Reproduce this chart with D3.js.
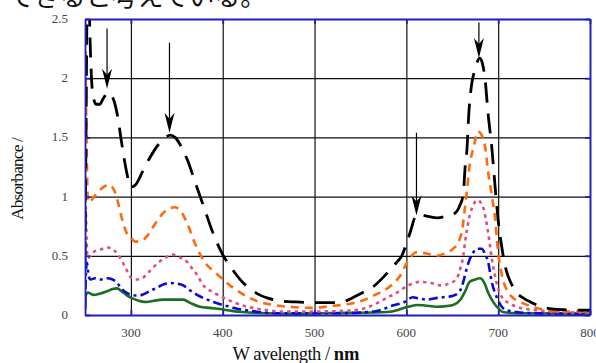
<!DOCTYPE html>
<html>
<head>
<meta charset="utf-8">
<script src="https://cdn.jsdelivr.net/npm/d3@7"></script>
<style>
  body { margin: 0; background: #fff; }
  svg { display: block; }
</style>
</head>
<body>
<div id="chart"></div>
<script>
// absorbance spectra, [wavelength nm, absorbance]
const blackSeries = [[250,0.45],[251,1.4],[252.5,2.7],[254,2.7],[256,2.2],[258,1.9],[262,1.78],[266,1.78],[270,1.83],[275,1.88],[280,1.84],[285,1.7],[290,1.45],[295,1.22],[300,1.08],[305,1.1],[312,1.2],[320,1.32],[330,1.44],[338,1.5],[343,1.52],[348,1.5],[355,1.42],[362,1.3],[370,1.12],[380,0.9],[390,0.68],[400,0.51],[410,0.39],[420,0.29],[430,0.22],[440,0.17],[450,0.14],[462,0.12],[480,0.11],[500,0.105],[520,0.105],[530,0.11],[540,0.14],[550,0.18],[564,0.24],[575,0.32],[582,0.38],[590,0.45],[595,0.5],[600,0.6],[605,0.72],[609,0.82],[612,0.85],[620,0.84],[634,0.82],[645,0.84],[653,0.86],[658,0.92],[662,1.02],[664,1.25],[666,1.4],[668,1.7],[670,1.88],[675,2.08],[680,2.17],[683,2.12],[686,1.97],[689,1.7],[693,1.42],[697,1.05],[700,0.8],[704,0.57],[708,0.4],[714,0.27],[720,0.19],[728,0.14],[735,0.11],[749,0.065],[760,0.05],[771,0.045],[800,0.04]];
const orangeSeries = [[250,2.7],[251.5,1.6],[253,1.0],[255,0.95],[258,0.98],[262,1.02],[270,1.08],[276,1.1],[282,1.05],[286,0.95],[291,0.79],[295,0.7],[299,0.66],[305,0.62],[312,0.63],[318,0.67],[323,0.73],[330,0.81],[335,0.86],[342,0.9],[348,0.91],[354,0.88],[361,0.78],[370,0.6],[381,0.44],[390,0.37],[399,0.31],[408,0.25],[417,0.2],[428,0.15],[440,0.11],[455,0.085],[470,0.07],[498,0.06],[517,0.075],[530,0.085],[542,0.1],[555,0.13],[566,0.17],[582,0.24],[593,0.33],[602,0.46],[611,0.53],[622,0.52],[633,0.5],[642,0.52],[651,0.56],[657,0.62],[661,0.73],[664,0.92],[666,1.05],[669,1.27],[673,1.41],[678,1.55],[682,1.52],[686,1.41],[689,1.21],[693,1.01],[697,0.79],[699,0.6],[704,0.34],[711,0.19],[717,0.14],[724,0.11],[742,0.06],[767,0.03],[800,0.03]];
const pinkSeries = [[250,1.3],[251.5,0.7],[253,0.48],[256,0.5],[259,0.53],[266,0.55],[275,0.57],[281,0.55],[286,0.51],[290,0.46],[294,0.4],[301,0.31],[306,0.3],[312,0.31],[318,0.35],[324,0.4],[331,0.45],[337,0.48],[345,0.51],[352,0.49],[361,0.45],[366,0.4],[372,0.34],[378,0.26],[390,0.19],[400,0.15],[411,0.11],[422,0.08],[433,0.06],[445,0.045],[462,0.03],[498,0.03],[509,0.03],[542,0.04],[556,0.06],[568,0.1],[580,0.15],[590,0.19],[602,0.25],[615,0.28],[627,0.27],[637,0.25],[648,0.27],[655,0.31],[659,0.4],[662,0.5],[664,0.62],[666,0.72],[669,0.84],[673,0.93],[677,0.97],[681,0.95],[684,0.9],[689,0.7],[693,0.48],[699,0.25],[705,0.14],[712,0.1],[720,0.07],[742,0.04],[767,0.025],[800,0.02]];
const blueSeries = [[250,0.05],[251,0.35],[252,0.44],[254,0.33],[256,0.3],[261,0.31],[268,0.3],[274,0.31],[280,0.3],[285,0.27],[290,0.22],[297,0.18],[305,0.165],[312,0.17],[320,0.2],[328,0.23],[336,0.26],[343,0.27],[350,0.265],[357,0.25],[364,0.21],[372,0.17],[380,0.14],[390,0.11],[400,0.085],[408,0.07],[417,0.05],[426,0.04],[440,0.025],[462,0.015],[498,0.015],[524,0.015],[560,0.025],[575,0.05],[585,0.08],[598,0.11],[607,0.15],[614,0.14],[622,0.13],[630,0.14],[640,0.15],[650,0.16],[658,0.2],[662,0.28],[666,0.4],[669,0.47],[673,0.53],[678,0.56],[682,0.56],[686,0.51],[689,0.45],[693,0.28],[699,0.14],[705,0.06],[712,0.035],[720,0.025],[738,0.015],[800,0.01]];
const greenSeries = [[250,0.04],[251,0.17],[253,0.19],[259,0.17],[266,0.18],[274,0.2],[280,0.22],[285,0.225],[290,0.2],[295,0.17],[299,0.15],[305,0.13],[311,0.115],[317,0.11],[325,0.12],[335,0.13],[345,0.13],[357,0.13],[365,0.1],[375,0.07],[386,0.06],[397,0.05],[410,0.035],[422,0.025],[448,0.015],[480,0.012],[506,0.015],[540,0.018],[579,0.025],[590,0.04],[597,0.06],[605,0.075],[611,0.085],[620,0.08],[633,0.07],[643,0.075],[651,0.085],[659,0.13],[664,0.2],[669,0.28],[675,0.3],[680,0.31],[685,0.27],[689,0.19],[693,0.13],[697,0.085],[701,0.05],[705,0.025],[720,0.015],[800,0.012]];

// arrows: wavelength, start absorbance, tip absorbance
const arrows = [[274,2.42,1.91],[342,2.30,1.54],[611,1.54,0.84],[679,2.47,2.17]];

const xTicks = [300, 400, 500, 600, 700, 800];
const yTicks = [0, 0.5, 1, 1.5, 2, 2.5];
const yTickLabels = ['0', '0.5', '1', '1.5', '2', '2.5'];
const headline = 'できると考えている。';

const width = 596, height = 363;
const margin = { top: 19, right: 6, bottom: 48, left: 85 };
const plotW = width - margin.left - margin.right;
const plotH = height - margin.top - margin.bottom;

const svg = d3.select('#chart').append('svg')
  .attr('width', width)
  .attr('height', height);

// cut-off sentence from the page above
svg.append('text')
  .attr('x', 8).attr('y', 6)
  .attr('font-family', '"Noto Sans CJK JP"')
  .attr('font-size', 26)
  .attr('fill', '#111')
  .text(headline);

const g = svg.append('g')
  .attr('transform', `translate(${margin.left},${margin.top})`);

const x = d3.scaleLinear().domain([250, 800]).range([0, plotW]);
const y = d3.scaleLinear().domain([0, 2.5]).range([plotH, 0]);

g.append('clipPath').attr('id', 'clip')
  .append('rect').attr('width', plotW).attr('height', plotH);

// grid
g.append('g')
  .attr('transform', `translate(0,${plotH})`)
  .call(d3.axisBottom(x).tickValues(xTicks).tickSize(-plotH).tickFormat(''))
  .call(a => a.select('.domain').remove())
  .selectAll('line').attr('stroke', '#111').attr('stroke-width', 1.2);
g.append('g')
  .call(d3.axisLeft(y).tickValues(yTicks).tickSize(-plotW).tickFormat(''))
  .call(a => a.select('.domain').remove())
  .selectAll('line').attr('stroke', '#111').attr('stroke-width', 1.2);

// curves
const line = d3.line()
  .x(d => x(d[0]))
  .y(d => y(d[1]))
  .curve(d3.curveMonotoneX);

const series = [
  { data: greenSeries, color: '#1b6e22', dash: null, w: 2.6 },
  { data: blueSeries, color: '#0a0ad8', dash: '9,4,3,4', w: 2.6 },
  { data: pinkSeries, color: '#de4f86', dash: '3.5,4', w: 2.6 },
  { data: orangeSeries, color: '#ff6a0e', dash: '8,6', w: 2.6 },
  { data: blackSeries, color: '#000', dash: '20,11', w: 2.8 }
];

const curves = g.append('g').attr('clip-path', 'url(#clip)');
series.forEach(s => {
  curves.append('path')
    .datum(s.data)
    .attr('fill', 'none')
    .attr('stroke', s.color)
    .attr('stroke-width', s.w)
    .attr('stroke-dasharray', s.dash)
    .attr('stroke-linejoin', 'round')
    .attr('d', line);
});

// arrows
arrows.forEach(([nm, from, to]) => {
  const ax = x(nm), y0 = y(from), y1 = y(to);
  g.append('line')
    .attr('x1', ax).attr('x2', ax)
    .attr('y1', y0).attr('y2', y1 - 14)
    .attr('stroke', '#000').attr('stroke-width', 1.2);
  g.append('path')
    .attr('d', `M${ax},${y1} L${ax - 5},${y1 - 20} L${ax},${y1 - 14} L${ax + 5},${y1 - 20} Z`)
    .attr('fill', '#000');
});

// frame and inner ticks, blue
const frameColor = '#1f1fbf';
const tl = 5;
g.append('g')
  .attr('transform', `translate(0,${plotH})`)
  .call(d3.axisBottom(x).tickValues(xTicks).tickSize(-tl).tickSizeOuter(0).tickFormat(''))
  .call(a => a.selectAll('line, path').attr('stroke', frameColor).attr('stroke-width', 1.8));
g.append('g')
  .call(d3.axisTop(x).tickValues(xTicks).tickSize(-tl).tickSizeOuter(0).tickFormat(''))
  .call(a => a.selectAll('line, path').attr('stroke', frameColor).attr('stroke-width', 1.8));
g.append('g')
  .call(d3.axisLeft(y).tickValues(yTicks).tickSize(-tl).tickSizeOuter(0).tickFormat(''))
  .call(a => a.selectAll('line, path').attr('stroke', frameColor).attr('stroke-width', 1.8));
g.append('g')
  .attr('transform', `translate(${plotW},0)`)
  .call(d3.axisRight(y).tickValues(yTicks).tickSize(-tl).tickSizeOuter(0).tickFormat(''))
  .call(a => a.selectAll('line, path').attr('stroke', frameColor).attr('stroke-width', 1.8));

// tick labels
const labelFont = '"Liberation Serif", serif';
g.append('g').selectAll('text')
  .data(xTicks).join('text')
  .attr('x', d => x(d))
  .attr('y', plotH + 22)
  .attr('text-anchor', 'middle')
  .attr('font-family', labelFont)
  .attr('font-size', 13)
  .attr('fill', '#444')
  .text(d => d);
g.append('g').selectAll('text')
  .data(yTicks).join('text')
  .attr('x', -17)
  .attr('y', d => y(d) + 4)
  .attr('text-anchor', 'end')
  .attr('font-family', labelFont)
  .attr('font-size', 13)
  .attr('fill', '#444')
  .text((d, i) => yTickLabels[i]);

// axis titles
const xTitle = svg.append('text')
  .attr('x', 296).attr('y', 360)
  .attr('text-anchor', 'middle')
  .attr('font-family', labelFont)
  .attr('font-size', 18.5)
  .attr('fill', '#111');
xTitle.append('tspan').attr('letter-spacing', -0.5).text('W avelength /  ');
xTitle.append('tspan').attr('font-weight', 'bold').text('nm');

svg.append('text')
  .attr('transform', 'translate(23,179) rotate(-90)')
  .attr('text-anchor', 'middle')
  .attr('font-family', labelFont)
  .attr('font-size', 17.5)
  .attr('letter-spacing', -0.9)
  .attr('fill', '#111')
  .text('Absorbance /');
</script>
</body>
</html>
